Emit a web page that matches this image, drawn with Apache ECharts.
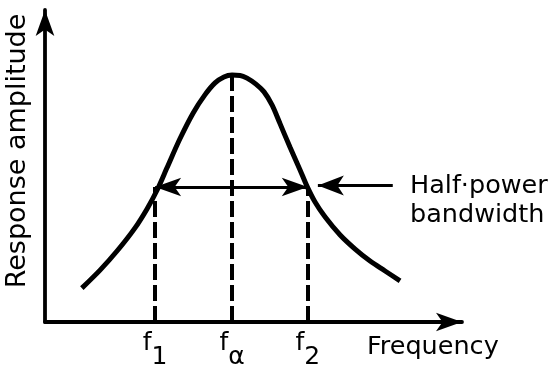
<!DOCTYPE html>
<html>
<head>
<meta charset="utf-8">
<script src="https://cdn.jsdelivr.net/npm/echarts@6/dist/echarts.min.js"></script>
<style>
  html, body { margin: 0; padding: 0; background: #fff; }
  #chart { width: 550px; height: 368px; }
</style>
</head>
<body>
<div id="chart"></div>
<script>
// Resonance response curve: frequency vs. response amplitude
const freq = [0.91, 1.36, 1.80, 2.22, 2.52, 2.77, 3.01, 3.33, 3.66, 3.95, 4.20, 4.42, 4.62, 4.82,
              4.99, 5.21, 5.41, 5.61, 5.80, 6.05, 6.30, 6.47, 6.67, 6.92, 7.29, 7.66, 8.03, 8.40, 8.77];
const amplitude = [1.13, 1.73, 2.40, 3.13, 3.77, 4.40, 5.13, 6.10, 6.97, 7.57, 7.97, 8.17, 8.23, 8.22,
                   8.13, 7.93, 7.67, 7.23, 6.63, 5.83, 5.07, 4.53, 4.00, 3.50, 2.90, 2.43, 2.03, 1.70, 1.37];

// Marked frequencies f1, f_alpha, f2 and their subscripts
const markFreq = [2.72, 4.62, 6.49];
const markSub = ['1', 'α', '2'];

// Half-power level and resonance peak
const halfPower = 4.5;
const peakAmp = 8.23;

// Pointer arrow towards the half-power bandwidth (from, to) on x
const pointerFrom = 8.59;
const pointerTo = 6.74;
const pointerLevel = 4.55;

const FONT = 'DejaVu Sans';
const chart = echarts.init(document.getElementById('chart'), null, { renderer: 'canvas' });

const dashed = { color: '#000', width: 4, type: [16, 5] };
const solid = { color: '#000', width: 3.2, type: 'solid' };

const option = {
  animation: false,
  backgroundColor: '#fff',
  grid: { left: 45, right: 88, top: 10, bottom: 46, outerBoundsMode: 'none', containLabel: false },
  xAxis: {
    type: 'value',
    min: 0, max: 10.3,
    name: 'Frequency',
    nameLocation: 'end',
    nameGap: -95,
    nameTextStyle: {
      fontFamily: FONT, fontSize: 25.5, color: '#000',
      align: 'left', verticalAlign: 'top', lineHeight: 50
    },
    axisLine: {
      onZero: false,
      lineStyle: { color: '#000', width: 3.8 },
      symbol: ['none', 'arrow'],
      symbolSize: [14, 26]
    },
    axisTick: { show: false },
    splitLine: { show: false },
    axisLabel: {
      customValues: markFreq,
      margin: 9,
      formatter: function (v) {
        const i = markFreq.indexOf(v);
        return i < 0 ? '' : '{f|f}{s|' + markSub[i] + '}';
      },
      rich: {
        f: { fontFamily: FONT, fontSize: 25, color: '#000', lineHeight: 26, verticalAlign: 'top' },
        s: { fontFamily: FONT, fontSize: 25, color: '#000', lineHeight: 52 }
      }
    }
  },
  yAxis: {
    type: 'value',
    min: 0, max: 10.4,
    name: 'Response amplitude',
    nameLocation: 'middle',
    nameGap: 14,
    nameTextStyle: {
      fontFamily: FONT, fontSize: 27, color: '#000', padding: [0, 0, 0, 30]
    },
    axisLine: {
      onZero: false,
      lineStyle: { color: '#000', width: 3.8 },
      symbol: ['none', 'arrow'],
      symbolSize: [14, 26]
    },
    axisTick: { show: false },
    axisLabel: { show: false },
    splitLine: { show: false }
  },
  graphic: [{
    type: 'text',
    left: 410,
    top: 172,
    style: {
      text: 'Half·power\nbandwidth',
      font: '25.5px "' + FONT + '"',
      fill: '#000',
      lineHeight: 29
    }
  }],
  series: [{
    type: 'line',
    data: freq.map((x, i) => [x, amplitude[i]]),
    smooth: 0.3,
    showSymbol: false,
    lineStyle: { color: '#000', width: 5 },
    z: 3,
    markLine: {
      silent: true,
      symbol: 'none',
      label: { show: false },
      lineStyle: dashed,
      data: [
        [{ coord: [markFreq[0], 0] }, { coord: [markFreq[0], halfPower] }],
        [{ coord: [markFreq[1], 0] }, { coord: [markFreq[1], peakAmp] }],
        [{ coord: [markFreq[2], 0] }, { coord: [markFreq[2], halfPower] }]
      ]
    }
  }, {
    type: 'line',
    data: [],
    markLine: {
      silent: true,
      label: { show: false },
      lineStyle: solid,
      symbol: ['arrow', 'arrow'],
      symbolSize: [14, 26],
      data: [
        [{ coord: [markFreq[0], halfPower] }, { coord: [markFreq[2], halfPower] }]
      ]
    }
  }, {
    type: 'line',
    data: [],
    markLine: {
      silent: true,
      label: { show: false },
      lineStyle: solid,
      symbol: ['none', 'arrow'],
      symbolSize: [15, 26],
      data: [
        [{ coord: [pointerFrom, pointerLevel] }, { coord: [pointerTo, pointerLevel] }]
      ]
    }
  }]
};

chart.setOption(option);
</script>
</body>
</html>
